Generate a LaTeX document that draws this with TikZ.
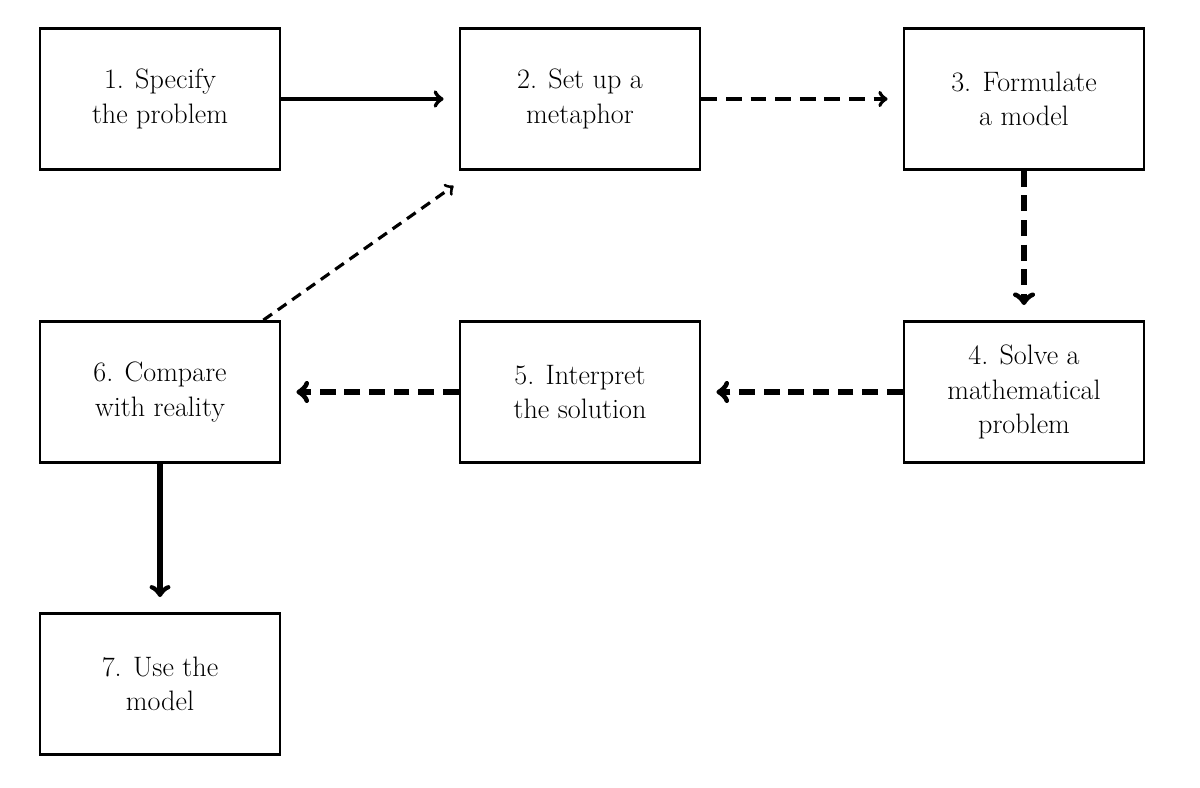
\documentclass[tikz,border=0pt]{standalone}
\usetikzlibrary{arrows,positioning}
\tikzstyle{stage} = [draw, rectangle, line width=1.6pt, align=center, minimum width=4.8cm, minimum height=2.82cm, font=\fontsize{16}{19.5}\selectfont]
\tikzstyle{solidline} = [draw, line width=2.4pt, ->, >=to, shorten >=0.3cm]
\tikzstyle{dashline} = [draw, line width=3.2pt, dashed, dash pattern=on 9pt off 5pt, ->, >=to, shorten >=0.3cm]
\begin{document}
\begin{tikzpicture}
    \useasboundingbox (0,0) rectangle (24,15.74);
    % Place nodes
    \node [stage] (specify) at (3.2,13.76) {1. Specify\\the problem};
    \node [stage] (metaphor) at (11.6,13.76) {2. Set up a\\metaphor};
    \node [stage] (formulate) at (20.48,13.76) {3. Formulate\\a model};
    \node [stage] (solve) at (20.48,7.9) {4. Solve a\\mathematical\\problem};
    \node [stage] (interpret) at (11.6,7.9) {5. Interpret\\the solution};
    \node [stage] (compare) at (3.2,7.9) {6. Compare\\with reality};
    \node [stage] (use) at (3.2,2.06) {7. Use the\\model};
    % Draw edges
    \path [solidline] (specify) -- (metaphor);
    \path [dashline, line width=2.2pt] (metaphor) -- (formulate);
    \path [dashline] (formulate) -- (solve);
    \path [dashline] (solve) -- (interpret);
    \path [dashline] (interpret) -- (compare);
    \path [solidline, line width=3pt] (compare) -- (use);
    \path [dashline, line width=1.8pt, dash pattern=on 6pt off 4pt, shorten >=0pt]
        ([xshift=-0.36cm]compare.north east) -- ([xshift=-0.1cm,yshift=-0.3cm]metaphor.south west);
\end{tikzpicture}
\end{document}
